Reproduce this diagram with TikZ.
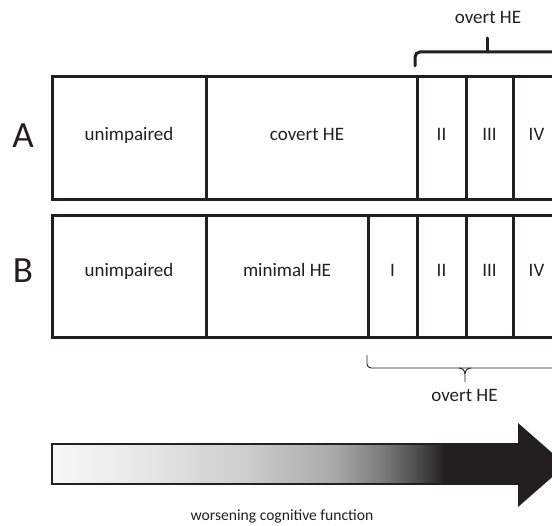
\documentclass[tikz,border=0pt]{standalone}
\usepackage{fontspec}
\setmainfont{Carlito}
\definecolor{ln}{HTML}{231F20}
\pgfdeclarehorizontalshading{worsen}{100bp}{%
  color(0bp)=(white!97!black);
  color(25bp)=(white!97!black);
  color(35.5bp)=(white!90!black);
  color(46bp)=(white!80!black);
  color(55bp)=(white!67!black);
  color(60bp)=(white!50!black);
  color(64.5bp)=(white!28!black);
  color(67bp)=(ln);
  color(100bp)=(ln)}
\begin{document}
\begin{tikzpicture}[x=1pt,y=-1pt,
  cell/.style={draw=ln, line width=3pt, inner sep=0pt, text=ln, text height=12pt, font=\fontsize{19}{22}\selectfont},
  rowA/.style={cell, minimum height=123pt, text depth=7pt},
  rowB/.style={cell, minimum height=122pt, text depth=12pt},
  rowlabel/.style={font=\fontsize{37}{40}\selectfont, text=ln},
  bracetext/.style={font=\fontsize{19}{22}\selectfont, anchor=base, text=ln},
  bigbrace/.style={draw=ln, line width=3pt, line cap=round, rounded corners=5pt},
  smallbrace/.style={draw=ln, line width=0.9pt, rounded corners=4pt}]
\useasboundingbox (0,0) rectangle (552,526);
\clip (0,0) rectangle (552,526);
% row A
\node[rowA, minimum width=154pt] (a1) at (129,138.5) {unimpaired};
\node[rowA, minimum width=211pt] (a2) at (311.5,138.5) {\hspace*{-9pt}covert HE};
\node[rowA, minimum width=49pt] (a3) at (441.5,138.5) {II};
\node[rowA, minimum width=47pt] (a4) at (489.5,138.5) {III};
\node[rowA, minimum width=47pt] (a5) at (536.5,138.5) {IV};
% row B
\node[rowB, minimum width=154pt] (b1) at (129,277) {unimpaired};
\node[rowB, minimum width=162pt] (b2) at (287,277) {minimal HE};
\node[rowB, minimum width=49pt] (b3) at (392.5,277) {I};
\node[rowB, minimum width=49pt] (b4) at (441.5,277) {II};
\node[rowB, minimum width=47pt] (b5) at (489.5,277) {III};
\node[rowB, minimum width=47pt] (b6) at (536.5,277) {IV};
% row labels
\node[rowlabel] (labA) at (23,136) {A};
\node[rowlabel] (labB) at (23,271) {B};
% top brace
\node[bracetext] (overtA) at (488,24) {overt HE};
\coordinate (tl) at (415,66);
\coordinate (tr) at (570,52);
\coordinate (tm) at (487,52);
\coordinate (tt) at (487,38);
\draw[bigbrace] (tl) -- (415,52) -- (tr);
\draw[bigbrace] (tm) -- (tt);
% bottom brace
\node[bracetext] (overtB) at (464.5,402) {overt HE};
\coordinate (bl) at (367,355);
\coordinate (br) at (570,368);
\coordinate (bt) at (465,382);
\draw[smallbrace] (bl) -- (367,368) -- (br);
\draw[draw=ln, line width=0.9pt] (459,368) to[out=0,in=90] (465,374) -- (bt);
\draw[draw=ln, line width=0.9pt] (471,368) to[out=180,in=90] (465,374);
% arrow
\coordinate (s1) at (52,444);
\coordinate (s2) at (519,484);
\coordinate (h1) at (518,423);
\coordinate (h2) at (566,465);
\coordinate (h3) at (518,507);
\shade[shading=worsen, draw=ln, line width=1.4pt] (s1) rectangle (s2);
\fill[ln] (h1) -- (h2) -- (h3) -- cycle;
\node[anchor=base, text=ln, font=\fontsize{15.6}{18}\selectfont] (cap) at (282,520.5) {worsening cognitive function};
\end{tikzpicture}
\end{document}
